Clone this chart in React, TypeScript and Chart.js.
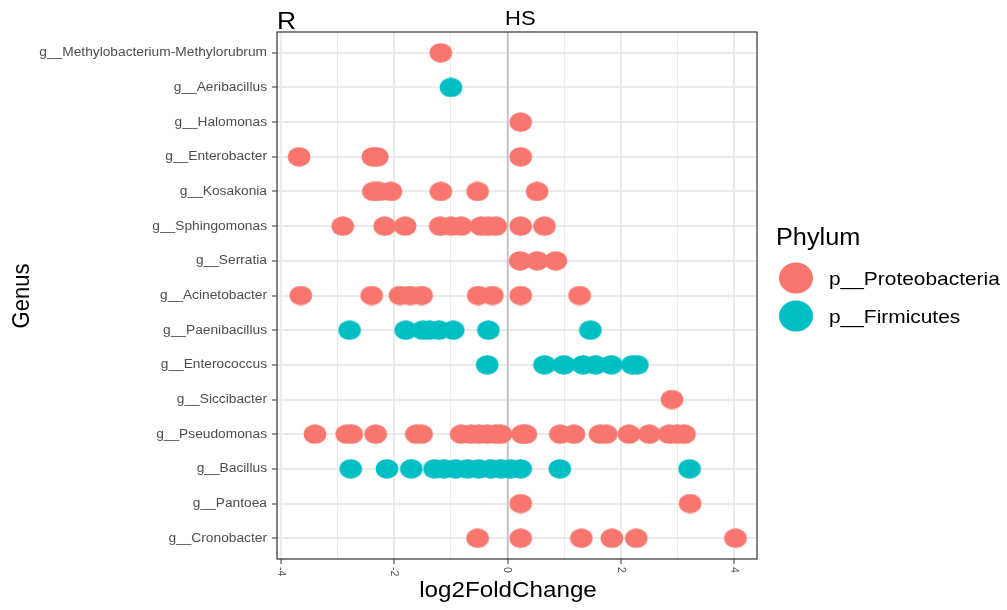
import React, { useEffect, useRef } from 'react';
import { Chart, registerables } from 'chart.js';

Chart.register(...registerables);

// ---- data ----
const genera = [
  'g__Methylobacterium-Methylorubrum',
  'g__Aeribacillus',
  'g__Halomonas',
  'g__Enterobacter',
  'g__Kosakonia',
  'g__Sphingomonas',
  'g__Serratia',
  'g__Acinetobacter',
  'g__Paenibacillus',
  'g__Enterococcus',
  'g__Siccibacter',
  'g__Pseudomonas',
  'g__Bacillus',
  'g__Pantoea',
  'g__Cronobacter',
];

const phylumNames = ['p__Proteobacteria', 'p__Firmicutes'];
const phylumColors = ['#F8766D', '#00BFC4'];
const genusPhylum = [0, 1, 0, 0, 0, 0, 0, 0, 1, 1, 0, 0, 1, 0, 0];

const methylobacterium = [-1.18];
const aeribacillus = [-1.0];
const halomonas = [0.23];
const enterobacter = [-3.68, -2.38, -2.3, 0.23];
const kosakonia = [-2.37, -2.27, -2.06, -1.18, -0.53, 0.52];
const sphingomonas = [-2.91, -2.17, -1.81, -1.19, -1.0, -0.82, -0.47, -0.34, -0.21, 0.23, 0.65];
const serratia = [0.22, 0.52, 0.85];
const acinetobacter = [-3.65, -2.4, -1.9, -1.72, -1.52, -0.52, -0.27, 0.23, 1.27];
const paenibacillus = [-2.79, -1.8, -1.5, -1.38, -1.21, -0.96, -0.34, 1.46];
const enterococcus = [-0.36, 0.65, 0.99, 1.33, 1.55, 1.83, 2.2, 2.29];
const siccibacter = [2.9];
const pseudomonas = [-3.4, -2.84, -2.75, -2.33, -1.61, -1.52, -0.82, -0.65, -0.51, -0.36, -0.21, -0.12, 0.26, 0.32, 0.93, 1.17, 1.63, 1.74, 2.14, 2.5, 2.85, 2.99, 3.12];
const bacillus = [-2.77, -2.13, -1.7, -1.29, -1.12, -0.92, -0.71, -0.51, -0.3, -0.12, 0.05, 0.23, 0.92, 3.21];
const pantoea = [0.23, 3.22];
const cronobacter = [-0.53, 0.23, 1.3, 1.84, 2.27, 4.02];

const genusValues = [
  methylobacterium, aeribacillus, halomonas, enterobacter, kosakonia, sphingomonas,
  serratia, acinetobacter, paenibacillus, enterococcus, siccibacter, pseudomonas,
  bacillus, pantoea, cronobacter,
];

const xTicks = [-4, -2, 0, 2, 4];
const xTickLabels = ['-4', '-2', '0', '2', '4'];
const xGrid = [-4, -3, -2, -1, 0, 1, 2, 3, 4];
const xMin = -4.07;
const xMax = 4.4;
const refLine = 0;

const xTitle = 'log2FoldChange';
const yTitle = 'Genus';
const legendTitle = 'Phylum';
const leftTag = 'R';
const rightTag = 'HS';

// ---- styling ----
const FONT = '"Liberation Sans", Arial, Helvetica, sans-serif';
const SX = 1.1;

function drawText(
  ctx: CanvasRenderingContext2D,
  text: string,
  x: number,
  y: number,
  size: number,
  color: string,
  align: CanvasTextAlign,
  baseline: CanvasTextBaseline,
  rot = 0
) {
  ctx.save();
  ctx.translate(x, y);
  ctx.scale(SX, 1);
  if (rot) ctx.rotate(rot);
  ctx.font = `${size}px ${FONT}`;
  ctx.fillStyle = color;
  ctx.textAlign = align;
  ctx.textBaseline = baseline;
  ctx.fillText(text, 0, 0);
  ctx.restore();
}

function makeDot(color: string) {
  const c = document.createElement('canvas');
  c.width = 24;
  c.height = 20;
  const g = c.getContext('2d')!;
  g.fillStyle = color;
  g.beginPath();
  g.ellipse(12, 10, 11.3, 9.8, 0, 0, Math.PI * 2);
  g.fill();
  return c;
}

export default function App() {
  const ref = useRef<HTMLCanvasElement>(null);

  useEffect(() => {
    document.body.style.margin = '0';
    const canvas = ref.current!;
    const n = genera.length;

    const datasets = phylumNames.map((name, p) => {
      const data: { x: number; y: number }[] = [];
      genusValues.forEach((vals, i) => {
        if (genusPhylum[i] !== p) return;
        vals.forEach((v) => data.push({ x: v, y: n - i }));
      });
      return {
        label: name,
        data,
        pointStyle: makeDot(phylumColors[p]) as any,
        pointRadius: 10,
        pointHoverRadius: 10,
        backgroundColor: phylumColors[p],
        borderWidth: 0,
      };
    });

    const decor = {
      id: 'decor',
      beforeDatasetsDraw(chart: any) {
        const { ctx, chartArea } = chart;
        const x = chart.scales.x.getPixelForValue(refLine);
        ctx.save();
        ctx.strokeStyle = '#bebebe';
        ctx.lineWidth = 1.6;
        ctx.beginPath();
        ctx.moveTo(x, chartArea.top);
        ctx.lineTo(x, chartArea.bottom);
        ctx.stroke();
        ctx.restore();
      },
      afterDraw(chart: any) {
        const { ctx, chartArea } = chart;
        const xs = chart.scales.x;
        const ys = chart.scales.y;
        // panel border
        ctx.save();
        ctx.strokeStyle = '#333333';
        ctx.lineWidth = 1.2;
        ctx.strokeRect(chartArea.left, chartArea.top, chartArea.right - chartArea.left, chartArea.bottom - chartArea.top);
        ctx.restore();

        // y tick labels
        genera.forEach((g, i) => {
          const y = ys.getPixelForValue(n - i);
          drawText(ctx, g, chartArea.left - 10, y, 12.5, '#4d4d4d', 'right', 'middle');
        });
        // x tick labels (rotated clockwise)
        xTicks.forEach((v, i) => {
          const x = xs.getPixelForValue(v);
          drawText(ctx, xTickLabels[i], x, chartArea.bottom + 8, 10.5, '#4d4d4d', 'left', 'middle', Math.PI / 2);
        });
        // axis titles
        drawText(ctx, xTitle, 508, 597, 22, '#000000', 'center', 'alphabetic');
        drawText(ctx, yTitle, 22, 296, 22, '#000000', 'center', 'middle', -Math.PI / 2);
        // tags
        drawText(ctx, leftTag, 277, 29, 24, '#000000', 'left', 'alphabetic');
        drawText(ctx, rightTag, 505, 25, 20, '#000000', 'left', 'alphabetic');
        // legend
        drawText(ctx, legendTitle, 776, 245, 23, '#000000', 'left', 'alphabetic');
        const keyY = [278, 316];
        phylumNames.forEach((name, p) => {
          ctx.save();
          ctx.fillStyle = phylumColors[p];
          ctx.beginPath();
          ctx.ellipse(796, keyY[p], 17, 15.5, 0, 0, Math.PI * 2);
          ctx.fill();
          ctx.restore();
          drawText(ctx, name, 829, keyY[p] + 7, 19, '#000000', 'left', 'alphabetic');
        });
      },
    };

    const chart = new Chart(canvas, {
      type: 'scatter',
      data: { datasets: datasets as any },
      options: {
        animation: false,
        responsive: false,
        devicePixelRatio: 1,
        layout: { padding: { top: 32, right: 250, left: 0, bottom: 0 } },
        plugins: { legend: { display: false }, tooltip: { enabled: false } },
        scales: {
          x: {
            type: 'linear',
            min: xMin,
            max: xMax,
            afterFit: (s: any) => {
              s.height = 51;
            },
            afterBuildTicks: (s: any) => {
              s.ticks = xGrid.map((v) => ({ value: v }));
            },
            ticks: { display: false },
            grid: {
              color: '#ebebeb',
              lineWidth: (c: any) => (c.tick && xTicks.includes(c.tick.value) ? 2 : 1),
              tickLength: 5,
              tickWidth: 1,
              tickColor: (c: any) =>
                c.tick && xTicks.includes(c.tick.value) ? '#333333' : 'rgba(0,0,0,0)',
            },
            border: { display: false },
          },
          y: {
            type: 'linear',
            min: 0.4,
            max: genera.length + 0.6,
            afterFit: (s: any) => {
              s.width = 277;
            },
            afterBuildTicks: (s: any) => {
              s.ticks = genera.map((_, i) => ({ value: i + 1 }));
            },
            ticks: { display: false },
            grid: { color: '#ebebeb', lineWidth: 2, tickLength: 5, tickWidth: 1, tickColor: '#333333' },
            border: { display: false },
          },
        },
      } as any,
      plugins: [decor],
    });

    return () => chart.destroy();
  }, []);

  return (
    <div style={{ position: 'absolute', left: 0, top: 0, width: 1007, height: 610, background: '#ffffff' }}>
      <canvas ref={ref} width={1007} height={610} style={{ width: 1007, height: 610 }} />
    </div>
  );
}
